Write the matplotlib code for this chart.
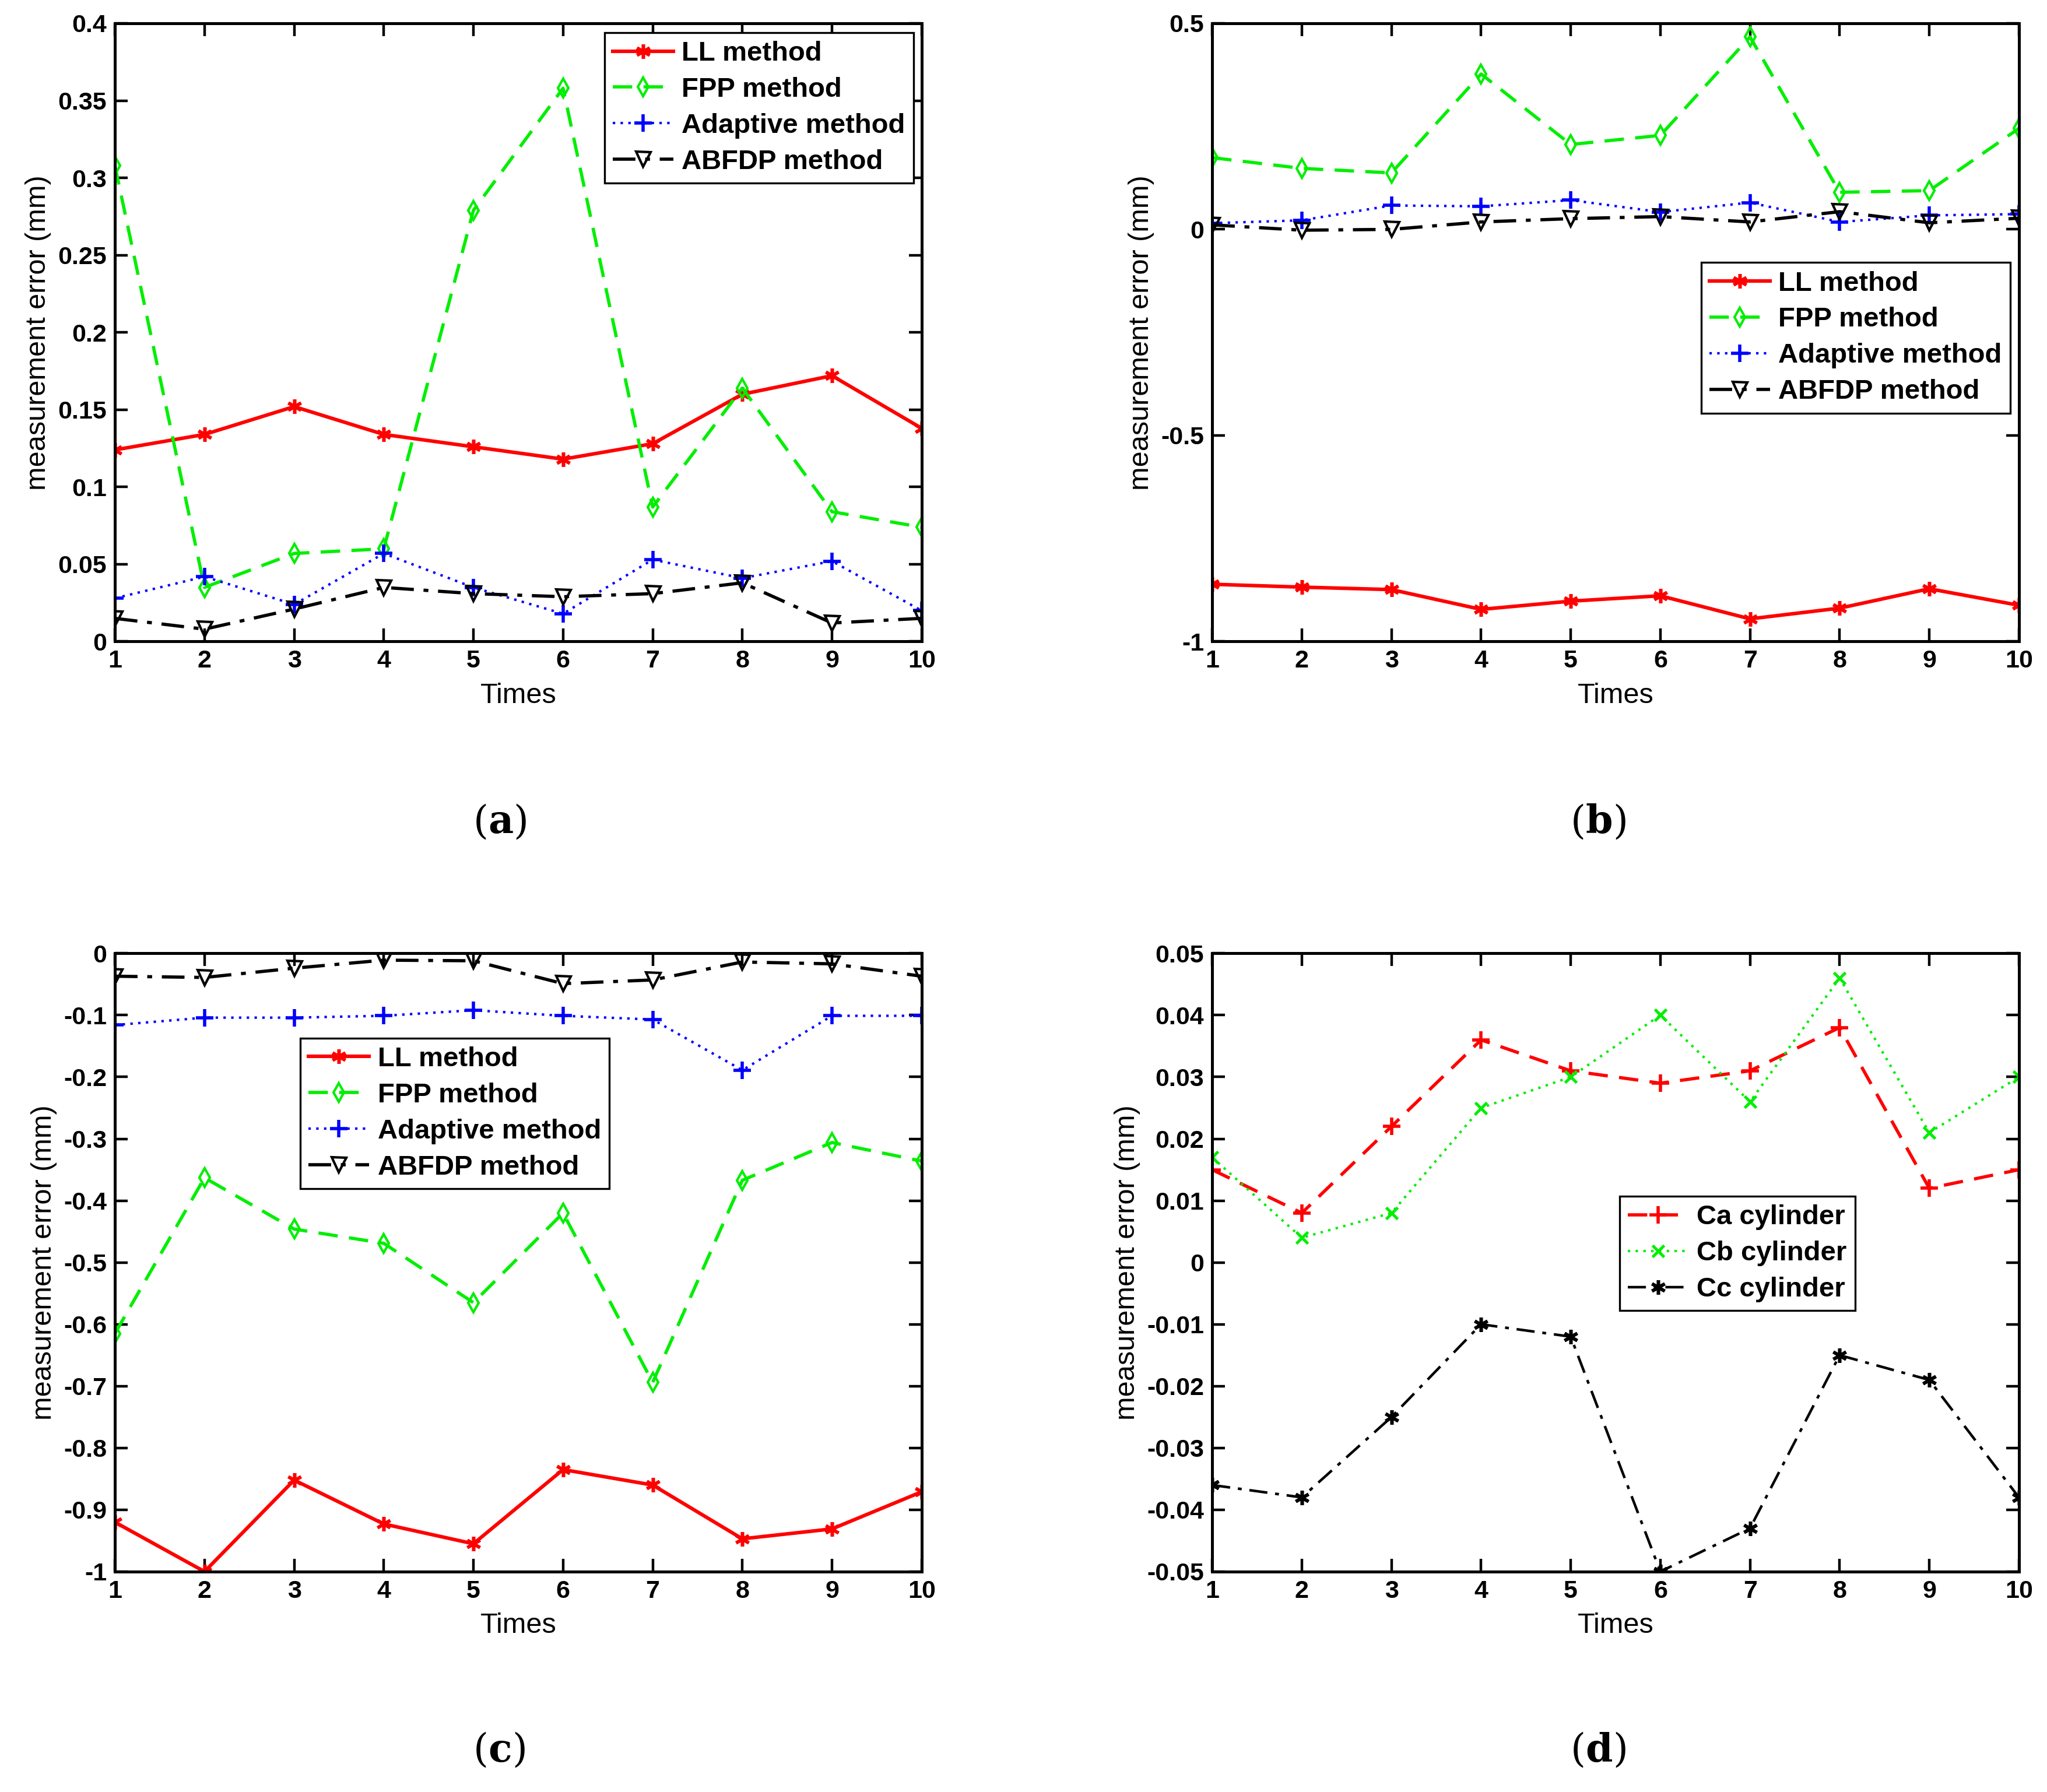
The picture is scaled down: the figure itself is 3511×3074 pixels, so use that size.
import matplotlib
matplotlib.use("Agg")
import matplotlib.pyplot as plt
import numpy as np

times = [1, 2, 3, 4, 5, 6, 7, 8, 9, 10]

# panel (a)
a_ll = [0.124, 0.134, 0.152, 0.134, 0.126, 0.118, 0.128, 0.160, 0.172, 0.138]
a_fpp = [0.308, 0.035, 0.057, 0.060, 0.279, 0.358, 0.087, 0.164, 0.084, 0.074]
a_adp = [0.028, 0.042, 0.024, 0.057, 0.035, 0.018, 0.053, 0.041, 0.052, 0.020]
a_abf = [0.015, 0.008, 0.021, 0.035, 0.031, 0.029, 0.031, 0.038, 0.012, 0.015]

# panel (b)
b_ll = [-0.861, -0.868, -0.874, -0.922, -0.902, -0.889, -0.945, -0.919, -0.872, -0.912]
b_fpp = [0.174, 0.148, 0.137, 0.377, 0.206, 0.228, 0.467, 0.090, 0.094, 0.245]
b_adp = [0.015, 0.022, 0.058, 0.056, 0.071, 0.042, 0.065, 0.018, 0.034, 0.037]
b_abf = [0.011, -0.002, 0.000, 0.018, 0.026, 0.031, 0.018, 0.043, 0.016, 0.027]

# panel (c)
c_ll = [-0.920, -1.000, -0.852, -0.923, -0.955, -0.835, -0.860, -0.947, -0.931, -0.871]
c_fpp = [-0.615, -0.363, -0.446, -0.469, -0.565, -0.420, -0.694, -0.367, -0.306, -0.336]
c_adp = [-0.116, -0.104, -0.104, -0.101, -0.092, -0.101, -0.107, -0.189, -0.101, -0.101]
c_abf = [-0.037, -0.039, -0.024, -0.011, -0.012, -0.049, -0.043, -0.014, -0.017, -0.037]

# panel (d)
d_ca = [0.015, 0.008, 0.022, 0.036, 0.031, 0.029, 0.031, 0.038, 0.012, 0.015]
d_cb = [0.017, 0.004, 0.008, 0.025, 0.030, 0.040, 0.026, 0.046, 0.021, 0.030]
d_cc = [-0.036, -0.038, -0.025, -0.010, -0.012, -0.050, -0.043, -0.015, -0.019, -0.038]

method_names = ["LL method", "FPP method", "Adaptive method", "ABFDP method"]
cyl_names = ["Ca cylinder", "Cb cylinder", "Cc cylinder"]

a_yticks = [0, 0.05, 0.1, 0.15, 0.2, 0.25, 0.3, 0.35, 0.4]
b_yticks = [-1, -0.5, 0, 0.5]
c_yticks = [-1, -0.9, -0.8, -0.7, -0.6, -0.5, -0.4, -0.3, -0.2, -0.1, 0]
d_yticks = [-0.05, -0.04, -0.03, -0.02, -0.01, 0, 0.01, 0.02, 0.03, 0.04, 0.05]

panel_labels = ["a", "b", "c", "d"]

TICKFONT = ["Liberation Sans Narrow", "Liberation Sans", "DejaVu Sans"]
LABELFONT = ["Liberation Sans", "DejaVu Sans"]
SERIF = ["DejaVu Serif"]

RED = "#ff0000"
GREEN = "#00ee00"
BLUE = "#0000ff"
BLACK = "#000000"
AST = (6, 2, 0)

fig = plt.figure(figsize=(17.56, 15.37), dpi=200)

W = 0.394
H = 0.345
pos = {
    "a": [0.0561, 0.642, W, H],
    "b": [0.592, 0.642, W, H],
    "c": [0.0561, 0.123, W, H],
    "d": [0.592, 0.123, W, H],
}


def style_axes(ax, yticks, ylim):
    ax.set_xlim(1, 10)
    ax.set_ylim(*ylim)
    ax.set_xticks(times)
    ax.set_xticklabels([str(t) for t in times])
    ax.set_yticks(yticks)
    ax.set_yticklabels(["%g" % v for v in yticks])
    ax.tick_params(direction="in", top=True, right=True, length=8, width=1.6,
                   labelsize=15.5, pad=5)
    for lab in ax.get_xticklabels() + ax.get_yticklabels():
        lab.set_family(TICKFONT)
        lab.set_fontweight("bold")
    for s in ax.spines.values():
        s.set_linewidth(1.8)
    ax.set_xlabel("Times", family=LABELFONT, fontsize=17.5, labelpad=6)
    ax.set_ylabel("measurement error (mm)", family=LABELFONT, fontsize=17.5, labelpad=4)


def methods_plot(ax, ll, fpp, adp, abf):
    ax.plot(times, ll, color=RED, lw=2.2, ls="-", marker=AST, ms=9, mew=2.0,
            label=method_names[0])
    ax.plot(times, fpp, color=GREEN, lw=2.0, ls=(0, (6, 3.5)), marker="d", ms=8,
            mfc="none", mew=1.5, label=method_names[1])
    ax.plot(times, adp, color=BLUE, lw=1.5, ls=(0, (1, 2.2)), marker="+", ms=11,
            mew=2.0, label=method_names[2])
    ax.plot(times, abf, color=BLACK, lw=2.0, ls=(0, (7, 3, 1.5, 3)), marker="v", ms=9,
            mfc="none", mew=1.5, label=method_names[3])


def make_legend(ax, loc, anchor):
    leg = ax.legend(loc=loc, bbox_to_anchor=anchor, fancybox=False, framealpha=1,
                    edgecolor="black", handlelength=2.2, handletextpad=0.3,
                    borderpad=0.3, labelspacing=0.38, borderaxespad=0,
                    prop={"family": TICKFONT, "weight": "bold", "size": 17})
    leg.get_frame().set_linewidth(1.2)
    return leg


axa = fig.add_axes(pos["a"])
methods_plot(axa, a_ll, a_fpp, a_adp, a_abf)
style_axes(axa, a_yticks, (0, 0.4))
make_legend(axa, "upper right", (0.99, 0.985))

axb = fig.add_axes(pos["b"])
methods_plot(axb, b_ll, b_fpp, b_adp, b_abf)
style_axes(axb, b_yticks, (-1, 0.5))
make_legend(axb, "upper right", (0.989, 0.613))

axc = fig.add_axes(pos["c"])
methods_plot(axc, c_ll, c_fpp, c_adp, c_abf)
style_axes(axc, c_yticks, (-1, 0))
make_legend(axc, "upper left", (0.23, 0.863))

axd = fig.add_axes(pos["d"])
axd.plot(times, d_ca, color=RED, lw=2.0, ls=(0, (6, 3.5)), marker="+", ms=11, mew=2.0,
         label=cyl_names[0])
axd.plot(times, d_cb, color=GREEN, lw=1.5, ls=(0, (1, 2.2)), marker="x", ms=7, mew=1.8,
         label=cyl_names[1])
axd.plot(times, d_cc, color=BLACK, lw=1.6, ls=(0, (7, 3, 1.5, 3)), marker=AST, ms=9,
         mew=2.0, label=cyl_names[2])
style_axes(axd, d_yticks, (-0.05, 0.05))
make_legend(axd, "upper left", (0.505, 0.607))

label_y = [0.535, 0.535, 0.017, 0.017]
label_x = [0.231, 0.767, 0.231, 0.767]
for lx, ly, name in zip(label_x, label_y, panel_labels):
    t1 = fig.text(lx, ly, "(", ha="left", va="baseline", family=SERIF, fontsize=24)
    t2 = fig.text(lx, ly, name, ha="left", va="baseline", family=SERIF, fontsize=24,
                  fontweight="bold")
    fig.canvas.draw()
    bb = t1.get_window_extent()
    x1 = fig.transFigure.inverted().transform((bb.x1, bb.y0))[0]
    t2.set_position((x1, ly))
    fig.canvas.draw()
    bb2 = t2.get_window_extent()
    x2 = fig.transFigure.inverted().transform((bb2.x1, bb2.y0))[0]
    fig.text(x2, ly, ")", ha="left", va="baseline", family=SERIF, fontsize=24)

fig.savefig("out.png", dpi=200)
